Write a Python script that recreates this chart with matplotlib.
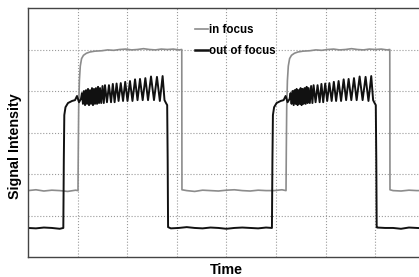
import numpy as np
import matplotlib
matplotlib.use('Agg')
import matplotlib.pyplot as plt

plt.rcParams['font.family'] = ['Liberation Sans', 'DejaVu Sans']

# --- dados (tempo em unidades arbitrarias, 50 por divisao) ---

# inicio de cada pulso
black_onsets = [35.6, 245.9]
gray_onsets = [50.4, 260.1]

# forma do pulso "out of focus" (tempo relativo ao inicio, intensidade)
black_pulse_dt = [0, 0.5, 1.0, 2.2, 4.7, 8.8, 11.8, 13.8, 15.8, 17.8,
                  18.8, 19.8, 20.8, 21.9, 22.9, 23.9, 24.9, 25.9, 26.9, 27.9,
                  28.9, 29.9, 30.9, 31.9, 32.9, 34.0, 35.0, 36.0, 37.0, 38.2,
                  39.5, 40.8, 42.0, 44.0, 46.0, 48.1, 49.9, 51.7, 53.7, 55.7,
                  57.9, 60.2, 62.4, 64.7, 67.2, 69.7, 72.3, 74.8, 77.3, 80.0,
                  82.7, 85.4, 88.4, 91.4, 94.4, 97.3, 100.1, 102.0, 103.5, 104.7,
                  105.2, 105.6]
black_pulse_y = [0.70, 2.34, 3.42, 3.61, 3.71, 3.76, 3.78, 3.88, 3.73, 3.81,
                 3.95, 3.69, 4.00, 3.66, 4.02, 3.69, 4.05, 3.66, 4.02, 3.69,
                 4.07, 3.66, 4.05, 3.69, 4.07, 3.69, 4.10, 3.71, 4.07, 3.71,
                 4.12, 3.71, 4.14, 3.73, 4.14, 3.73, 4.17, 3.73, 4.18, 3.76,
                 4.19, 3.76, 4.22, 3.76, 4.24, 3.76, 4.28, 3.78, 4.29, 3.78,
                 4.31, 3.78, 4.35, 3.78, 4.34, 3.76, 4.36, 3.78, 3.71, 3.66,
                 2.34, 0.72]

# forma do pulso "in focus"
gray_pulse_dt = [0, 0.3, 0.7, 1.4, 2.3, 3.6, 5.5, 8.5, 12, 17,
                 24, 30, 36, 42, 48, 54, 60, 66, 72, 78,
                 84, 90, 96, 102, 104.6, 104.8]
gray_pulse_y = [1.60, 2.60, 3.60, 4.25, 4.60, 4.78, 4.86, 4.91, 4.94, 4.96,
                4.97, 4.99, 4.98, 5.00, 5.01, 4.99, 5.00, 5.02, 5.00, 4.99,
                5.01, 5.00, 5.01, 4.99, 5.00, 1.62]

# nivel de base (amostrado a cada 8 unidades de tempo)
base_t = np.arange(0, 401, 8)
gray_base_y = [1.60, 1.62, 1.59, 1.61, 1.60, 1.58, 1.61, 1.60, 1.62, 1.60,
               1.59, 1.61, 1.60, 1.62, 1.59, 1.60, 1.61, 1.59, 1.60, 1.62,
               1.60, 1.58, 1.61, 1.60, 1.59, 1.61, 1.62, 1.60, 1.59, 1.61,
               1.60, 1.60, 1.62, 1.59, 1.61, 1.60, 1.58, 1.60, 1.61, 1.59,
               1.62, 1.60, 1.61, 1.59, 1.60, 1.62, 1.60, 1.59, 1.61, 1.60,
               1.60]
black_base_y = [0.70, 0.69, 0.71, 0.70, 0.68, 0.71, 0.70, 0.72, 0.69, 0.70,
                0.71, 0.69, 0.70, 0.72, 0.70, 0.68, 0.70, 0.71, 0.69, 0.70,
                0.72, 0.70, 0.69, 0.71, 0.70, 0.68, 0.70, 0.71, 0.70, 0.69,
                0.71, 0.70, 0.72, 0.69, 0.70, 0.71, 0.68, 0.70, 0.71, 0.69,
                0.70, 0.72, 0.70, 0.69, 0.71, 0.70, 0.70, 0.68, 0.71, 0.70,
                0.69]

labels = ['in focus', 'out of focus']


def build_series(onsets, pulse_dt, pulse_y, base_y):
    """Junta a linha de base com os pulsos nos instantes de inicio."""
    pulse_dt = np.asarray(pulse_dt)
    t_parts, y_parts = [], []
    keep = np.ones(len(base_t), dtype=bool)
    for t0 in onsets:
        keep &= ~((base_t >= t0) & (base_t <= t0 + pulse_dt[-1]))
        t_parts.append(t0 + pulse_dt)
        y_parts.append(np.asarray(pulse_y))
    t_parts.append(base_t[keep])
    y_parts.append(np.asarray(base_y)[keep])
    t = np.concatenate(t_parts)
    y = np.concatenate(y_parts)
    order = np.argsort(t, kind='stable')
    return t[order], y[order]


gray_t, gray_y = build_series(gray_onsets, gray_pulse_dt, gray_pulse_y, gray_base_y)
black_t, black_y = build_series(black_onsets, black_pulse_dt, black_pulse_y, black_base_y)

fig = plt.figure(figsize=(4.19, 2.77), dpi=100)
ax = fig.add_axes([28 / 419, 20 / 277, 396.8 / 419, 249 / 277])

ax.plot(gray_t, gray_y, color='#8c8c8c', lw=1.2, label=labels[0])
ax.plot(black_t, black_y, color='#111111', lw=1.4, label=labels[1],
        solid_joinstyle='round')

ax.set_xlim(0, 400)
ax.set_ylim(0, 6)
ax.set_xticks(np.arange(50, 400, 50))
ax.set_yticks(np.arange(1, 6, 1))
ax.tick_params(length=0, labelbottom=False, labelleft=False)
ax.grid(True, color='#9a9a9a', linestyle=':', linewidth=0.8)
for side in ['left', 'bottom', 'top', 'right']:
    ax.spines[side].set_color('#444444')
    ax.spines[side].set_linewidth(1.0)

leg = ax.legend(loc='upper left', bbox_to_anchor=(195 / 419, 1 - 24 / 277),
                bbox_transform=fig.transFigure, frameon=False,
                prop={'weight': 'bold', 'size': 8.3}, handlelength=1.1,
                handletextpad=0.15, labelspacing=0.75, borderpad=0,
                borderaxespad=0)
leg.get_lines()[1].set_linewidth(1.8)

fig.text(226 / 419, 1 - 270 / 277, 'Time', ha='center', va='center',
         fontsize=10.3, fontweight='bold')
fig.text(15.5 / 419, 1 - 146 / 277, 'Signal Intensity', ha='center', va='center',
         rotation=90, fontsize=10.3, fontweight='bold')

fig.savefig('out.png', dpi=100)
